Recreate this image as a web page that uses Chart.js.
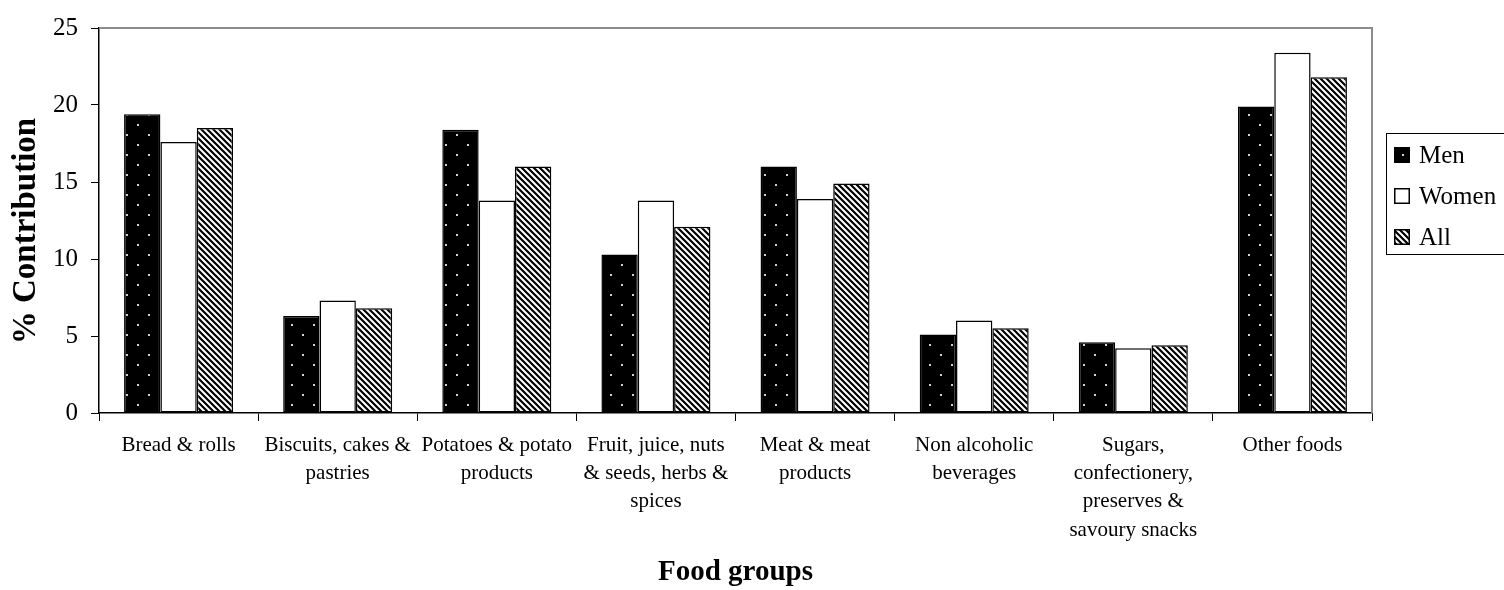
<!DOCTYPE html>
<html>
<head>
<meta charset="utf-8">
<style>
  html, body { margin: 0; padding: 0; background: #fff; }
  #wrap { width: 1504px; height: 590px; }
</style>
<script src="https://cdn.jsdelivr.net/npm/chart.js@4.4.1/dist/chart.umd.min.js"></script>
</head>
<body>
<div id="wrap"><canvas id="chart" width="1504" height="590"></canvas></div>
<script>
// data
const categories = [
  'Bread & rolls',
  ['Biscuits, cakes &', 'pastries'],
  ['Potatoes & potato', 'products'],
  ['Fruit, juice, nuts', '& seeds, herbs &', 'spices'],
  ['Meat & meat', 'products'],
  ['Non alcoholic', 'beverages'],
  ['Sugars,', 'confectionery,', 'preserves &', 'savoury snacks'],
  'Other foods'
];
const seriesNames = ['Men', 'Women', 'All'];
const menValues = [19.4, 6.3, 18.4, 10.3, 16.0, 5.1, 4.6, 19.9];
const womenValues = [17.6, 7.3, 13.8, 13.8, 13.9, 6.0, 4.2, 23.4];
const allValues = [18.5, 6.8, 16.0, 12.1, 14.9, 5.5, 4.4, 21.8];
const yTicks = [0, 5, 10, 15, 20, 25];

const SERIF = '"Liberation Serif", "Times New Roman", serif';

// fill patterns
function dotPattern() {
  const c = document.createElement('canvas');
  c.width = 22; c.height = 20;
  const g = c.getContext('2d');
  g.fillStyle = '#000';
  g.fillRect(0, 0, 22, 20);
  g.fillStyle = '#d0d0d0';
  g.fillRect(5, 4, 2, 2);
  g.fillRect(16, 14, 2, 2);
  return g.createPattern(c, 'repeat');
}

function stripePattern() {
  const s = 6;
  const c = document.createElement('canvas');
  c.width = s; c.height = s;
  const g = c.getContext('2d');
  g.fillStyle = '#fff';
  g.fillRect(0, 0, s, s);
  g.strokeStyle = '#000';
  g.lineWidth = 2.2;
  g.beginPath();
  g.moveTo(-1, -1); g.lineTo(s + 1, s + 1);
  g.moveTo(-1, s - 1); g.lineTo(1, s + 1);
  g.moveTo(s - 1, -1); g.lineTo(s + 1, 1);
  g.stroke();
  return g.createPattern(c, 'repeat');
}

// gray frame on top/right of plot, y title, boxed legend
const extras = {
  id: 'extras',
  afterDraw(chart) {
    const ctx = chart.ctx;
    const a = chart.chartArea;
    ctx.save();

    ctx.strokeStyle = '#8c8c8c';
    ctx.lineWidth = 2;
    ctx.beginPath();
    ctx.moveTo(a.left, a.top);
    ctx.lineTo(a.right, a.top);
    ctx.lineTo(a.right, a.bottom);
    ctx.stroke();

    ctx.save();
    ctx.translate(26, 231);
    ctx.rotate(-Math.PI / 2);
    ctx.fillStyle = '#000';
    ctx.font = 'bold 33px ' + SERIF;
    ctx.textAlign = 'center';
    ctx.textBaseline = 'middle';
    ctx.fillText('% Contribution', 0, 0);
    ctx.restore();

    // legend
    ctx.strokeStyle = '#000';
    ctx.lineWidth = 1;
    ctx.strokeRect(1386.5, 133.5, 130, 121);
    ctx.font = '25px ' + SERIF;
    ctx.textBaseline = 'middle';
    ctx.textAlign = 'left';
    chart.data.datasets.forEach((ds, i) => {
      const y = 155 + i * 41;
      ctx.fillStyle = ds.backgroundColor;
      ctx.fillRect(1394, y - 8, 16, 16);
      ctx.lineWidth = 1.5;
      ctx.strokeRect(1394.75, y - 7.25, 14.5, 14.5);
      ctx.fillStyle = '#000';
      ctx.fillText(ds.label, 1419, y + 1);
    });
    ctx.restore();
  }
};

const barStyle = {
  borderColor: '#000',
  borderWidth: 1.5,
  borderSkipped: false,
  categoryPercentage: 0.685,
  barPercentage: 1
};

new Chart(document.getElementById('chart'), {
  type: 'bar',
  data: {
    labels: categories,
    datasets: [
      Object.assign({ label: seriesNames[0], data: menValues, backgroundColor: dotPattern() }, barStyle),
      Object.assign({ label: seriesNames[1], data: womenValues, backgroundColor: '#fff' }, barStyle),
      Object.assign({ label: seriesNames[2], data: allValues, backgroundColor: stripePattern() }, barStyle)
    ]
  },
  options: {
    responsive: false,
    animation: false,
    devicePixelRatio: 1,
    layout: { padding: { top: 18, right: 132, left: 0, bottom: 0 } },
    plugins: {
      legend: { display: false },
      tooltip: { enabled: false }
    },
    scales: {
      x: {
        offset: true,
        grid: { offset: true, drawOnChartArea: false, drawTicks: true, tickLength: 8, color: '#000' },
        border: { color: '#000', width: 1.5 },
        ticks: {
          color: '#000',
          font: { family: SERIF, size: 21, lineHeight: 1.35 },
          padding: 10,
          maxRotation: 0,
          autoSkip: false
        },
        title: {
          display: true,
          text: 'Food groups',
          color: '#000',
          font: { family: SERIF, size: 29, weight: 'bold', lineHeight: 1.2 },
          padding: 0
        },
        afterFit(scale) { scale.height = 177; }
      },
      y: {
        min: 0,
        max: 25,
        afterBuildTicks(scale) { scale.ticks = yTicks.map(v => ({ value: v })); },
        grid: { drawOnChartArea: false, drawTicks: true, tickLength: 8, color: '#000' },
        border: { color: '#000', width: 1.5 },
        ticks: {
          color: '#000',
          font: { family: SERIF, size: 25 },
          padding: 13
        },
        afterFit(scale) { scale.width = 99; }
      }
    }
  },
  plugins: [extras]
});
</script>
</body>
</html>
